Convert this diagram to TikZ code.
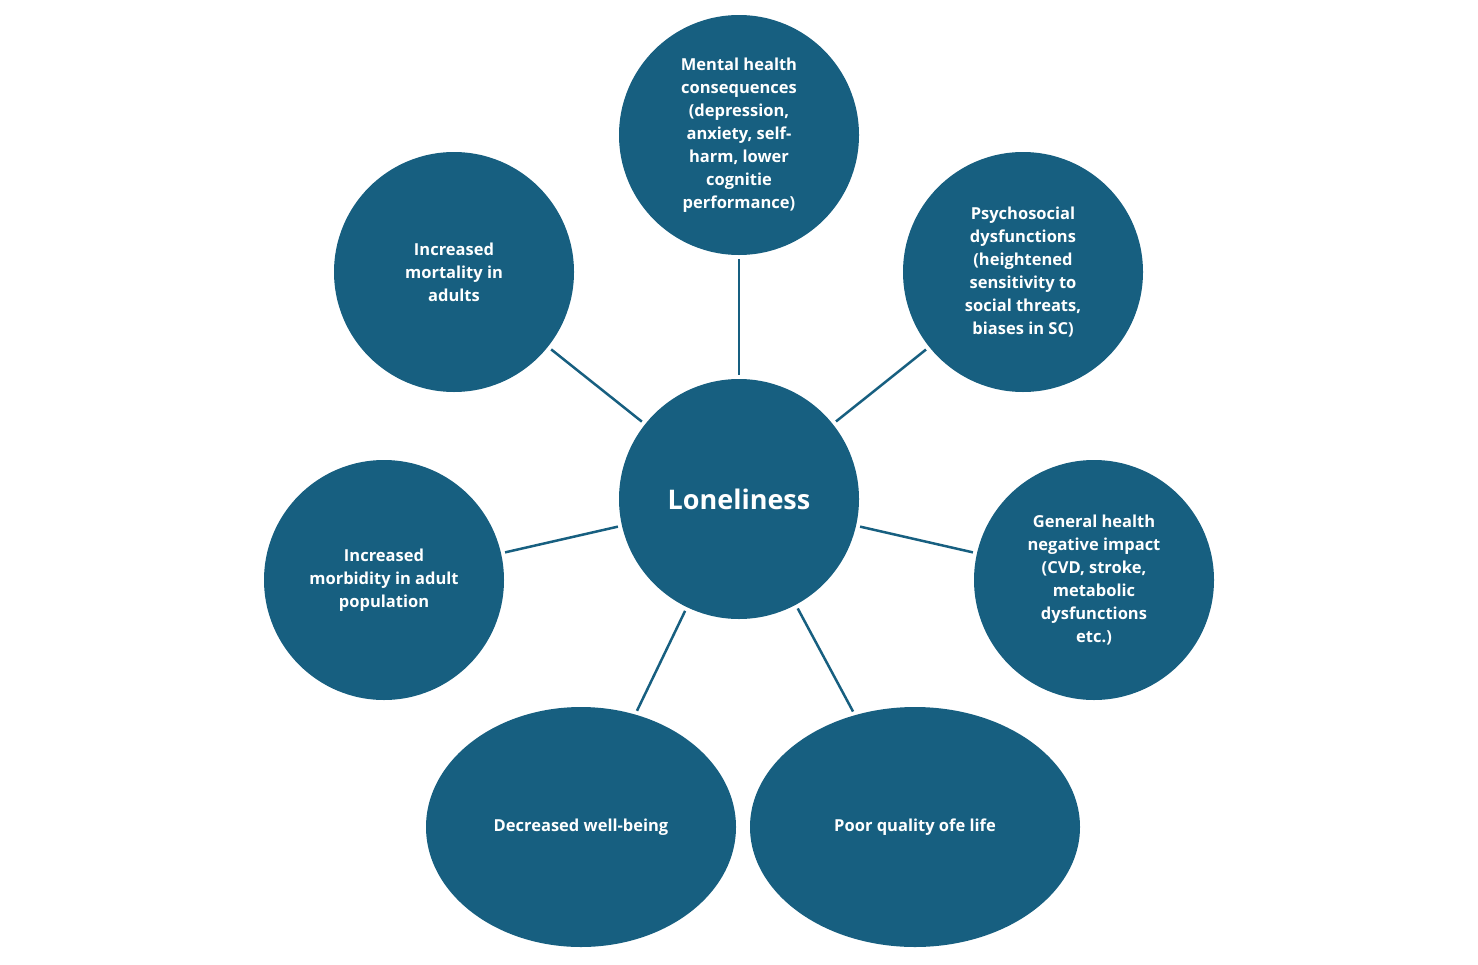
\documentclass[tikz,border=0pt]{standalone}
\usepackage{fontspec}
\setmainfont{Open Sans}
\usetikzlibrary{shapes.geometric}
\definecolor{nb}{HTML}{175F80}
\begin{document}
\begin{tikzpicture}[x=1pt,y=-1pt,
  c/.style={circle,fill=nb,minimum size=240pt,inner sep=0pt,text=white,align=center,font=\fontsize{16.5}{23}\selectfont\bfseries},
  e/.style={ellipse,fill=nb,inner sep=0pt,text=white,align=center,font=\fontsize{16.5}{23}\selectfont\bfseries},
  l/.style={draw=nb,line width=2.5pt,shorten >=4pt,shorten <=4pt}]
\useasboundingbox (0,0) rectangle (1478,964);
\node[c,font=\fontsize{27}{32}\selectfont\bfseries] (L) at (739,499) {Loneliness};
\node[c] (M) at (739,135) {Mental health\\consequences\\(depression,\\anxiety, self-\\harm, lower\\cognitie\\performance)};
\node[c] (A) at (454,272) {Increased\\mortality in\\adults};
\node[c] (P) at (1023,272) {Psychosocial\\dysfunctions\\(heightened\\sensitivity to\\social threats,\\biases in SC)};
\node[c] (B) at (384,580) {Increased\\morbidity in adult\\population};
\node[c] (G) at (1094,580) {General health\\negative impact\\(CVD, stroke,\\metabolic\\dysfunctions\\etc.)};
\node[e,minimum width=310pt,minimum height=240pt] (W) at (581,827) {Decreased well-being};
\node[e,minimum width=330pt,minimum height=240pt] (Q) at (915,827) {Poor quality ofe life};
\foreach \n in {M,A,P,B,G,W,Q} \draw[l] (L) -- (\n);
\end{tikzpicture}
\end{document}
